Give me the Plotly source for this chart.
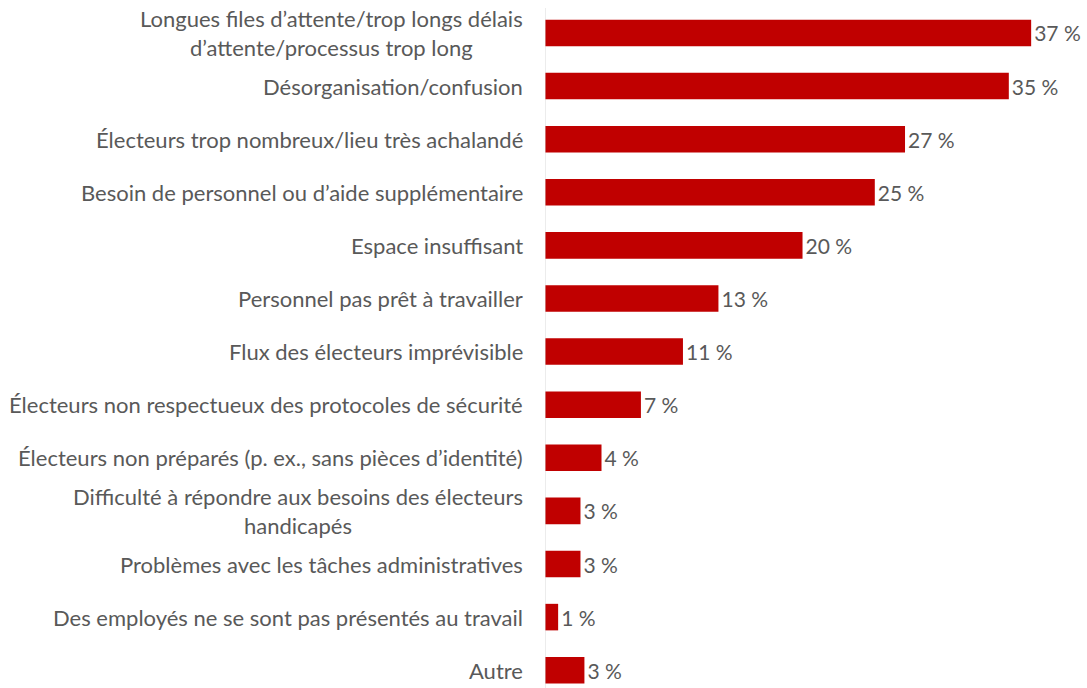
import plotly.graph_objects as go

categories = [
    "Longues files d’attente/trop longs délais<br>d’attente/processus trop long",
    "Désorganisation/confusion",
    "Électeurs trop nombreux/lieu très achalandé",
    "Besoin de personnel ou d’aide supplémentaire",
    "Espace insuffisant",
    "Personnel pas prêt à travailler",
    "Flux des électeurs imprévisible",
    "Électeurs non respectueux des protocoles de sécurité",
    "Électeurs non préparés (p. ex., sans pièces d’identité)",
    "Difficulté à répondre aux besoins des électeurs<br>handicapés",
    "Problèmes avec les tâches administratives",
    "Des employés ne se sont pas présentés au travail",
    "Autre",
]
values = [37.0, 35.3, 27.4, 25.1, 19.6, 13.2, 10.5, 7.3, 4.3, 2.7, 2.7, 1.0, 3.0]
labels = ["37 %", "35 %", "27 %", "25 %", "20 %", "13 %", "11 %", "7 %", "4 %", "3 %", "3 %", "1 %", "3 %"]

FONT = "Lato"
GRAY = "#595959"

fig = go.Figure(go.Bar(
    x=values, y=categories, orientation="h",
    marker=dict(color="#C00000", line=dict(width=0)),
    text=labels, textposition="outside", cliponaxis=False,
    textfont=dict(family=FONT, size=21, color=GRAY),
    width=0.5, hoverinfo="skip",
))

annotations = [
    dict(text=c, x=0, xref="paper", xanchor="right", xshift=-20,
         y=c, yref="y", yanchor="middle", showarrow=False, align="center",
         font=dict(family=FONT, size=22, color=GRAY))
    for c in categories
]

fig.update_layout(
    width=1087, height=688,
    margin=dict(l=545, r=0, t=8, b=0, autoexpand=False),
    paper_bgcolor="white", plot_bgcolor="white",
    showlegend=False,
    annotations=annotations,
    xaxis=dict(range=[0, 41.25], visible=False),
    yaxis=dict(type="category", range=[12.335, -0.47], showticklabels=False,
               showgrid=False, zeroline=False, showline=False),
)
fig.add_shape(type="line", xref="x", yref="paper", x0=0, x1=0, y0=0, y1=1,
              line=dict(color="#D9D9D9", width=1))

fig.write_html("out.html", config={"displayModeBar": False},
               post_script="document.body.style.margin='0';document.body.style.overflow='hidden';")
